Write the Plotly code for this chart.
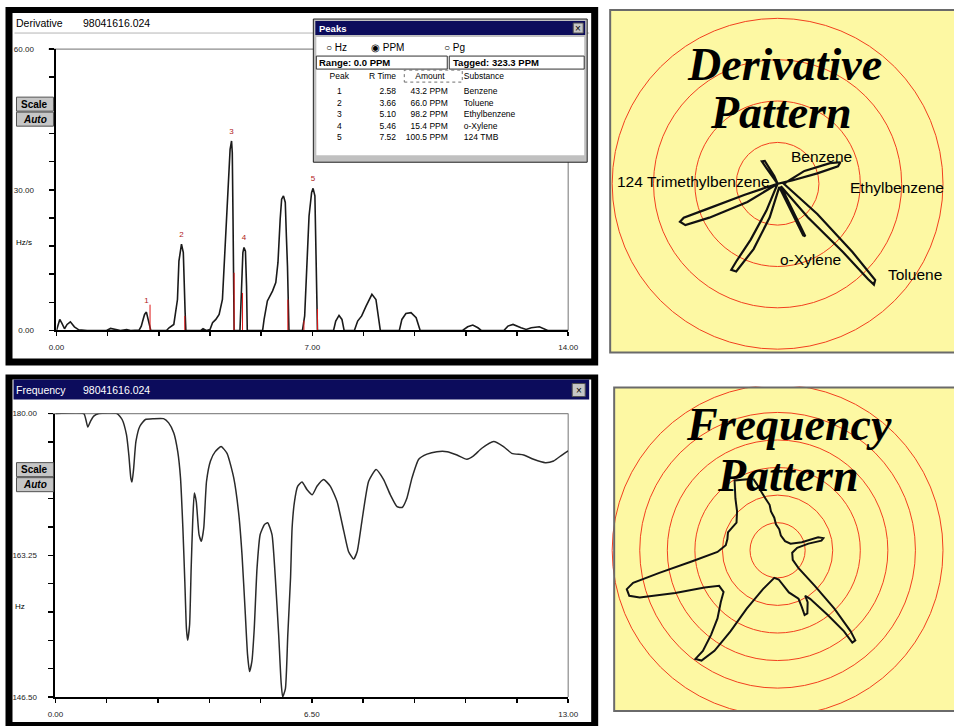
import numpy as np
import plotly.graph_objects as go

W, H = 954, 726

# ---------------- data ----------------
# Derivative chromatogram (time, value)
deriv_time = [0, 0.04, 0.09, 0.15, 0.22, 0.29, 0.38, 0.49, 0.61, 0.84,
              1.37, 1.48, 1.62, 1.75, 1.92, 2.03,
              2.26, 2.32, 2.37, 2.41, 2.46, 2.50, 2.54, 2.58,
              3.01, 3.08, 3.21, 3.31, 3.35, 3.40, 3.42, 3.47, 3.49, 3.52, 3.54,
              3.95, 4.01, 4.10,
              4.20, 4.27, 4.36, 4.45, 4.54, 4.60, 4.66, 4.70, 4.75, 4.79, 4.81, 4.83, 4.86,
              5.02, 5.06, 5.10, 5.13, 5.17, 5.20, 5.22,
              5.64, 5.68, 5.77, 5.91, 6.00, 6.06, 6.12, 6.16, 6.21, 6.26, 6.29, 6.32, 6.36,
              6.73, 6.79, 6.85, 6.91, 6.98, 7.02, 7.07, 7.10, 7.14,
              7.58, 7.64, 7.73, 7.81, 7.87,
              8.15, 8.24, 8.35, 8.47, 8.63, 8.74, 8.80, 8.86,
              9.38, 9.45, 9.56, 9.70, 9.84, 9.95,
              11.11, 11.25, 11.39, 11.53, 11.62,
              12.24, 12.35, 12.49, 12.71, 12.85, 12.99, 13.21, 13.44, 14.0]
deriv_value = [0, 1.28, 2.35, 1.5, 0.36, 1.28, 1.85, 0.78, 0.14, 0,
               0, 0.43, 0.2, 0, 0.2, 0,
               0.07, 0.93, 2.35, 3.42, 3.91, 2.7, 1.28, 0,
               0, 0.57, 1.28, 6.6, 14.8, 17.7, 18.4, 16.6, 9.5, 3.8, 0,
               0, 0.36, 0,
               0.2, 1.64, 2.35, 3.42, 6.6, 15.2, 23.7, 32.2, 38.6, 40.4, 37.9, 23.7, 0,
               0, 9.5, 16.6, 17.7, 16.9, 9.5, 0,
               0, 2.35, 6.3, 8.4, 10.2, 14.5, 23.7, 28.0, 28.7, 27.3, 20.1, 13.7, 0,
               0, 3.1, 15.2, 24.4, 29.4, 30.3, 28.7, 18.7, 0,
               0, 2.0, 3.2, 2.35, 0,
               0, 2.0, 3.1, 5.2, 7.7, 6.6, 3.1, 0,
               0, 2.35, 3.6, 3.8, 2.7, 0,
               0, 0.78, 1.14, 0.57, 0,
               0, 0.93, 1.28, 0.57, 0.2, 0.57, 0.78, 0, 0]

deriv_xticks = [0, 1.4, 2.8, 4.2, 5.6, 7.0, 8.4, 9.8, 11.2, 12.6, 14.0]
deriv_xticktext = ["0.00", "", "", "", "", "7.00", "", "", "", "", "14.00"]
deriv_yticks = [0, 6, 12, 18, 24, 30, 36, 42, 48, 54, 60]
deriv_yticktext = ["0.00", "", "", "", "", "30.00", "", "", "", "", "60.00"]

peak_ids = ["1", "2", "3", "4", "5"]
peak_label_time = [2.46, 3.42, 4.79, 5.13, 7.02]
peak_label_value = [6.3, 20.3, 42.4, 19.8, 32.4]
marker_time = [2.56, 3.51, 4.86, 5.09, 6.33, 6.77, 7.14]
marker_height = [5.5, 3.1, 12.3, 8.0, 6.6, 2.1, 4.6]

# Peaks table
peak_no = ["1", "2", "3", "4", "5"]
peak_rtime = ["2.58", "3.66", "5.10", "5.46", "7.52"]
peak_amount = ["43.2 PPM", "66.0 PPM", "98.2 PPM", "15.4 PPM", "100.5 PPM"]
peak_substance = ["Benzene", "Toluene", "Ethylbenzene", "o-Xylene", "124 TMB"]
table_header = ["Peak", "R Time", "Amount", "Substance"]

# Frequency trace
freq_time = [0, 0.72, 0.77, 0.82, 0.89, 0.97, 1.10, 1.56, 1.69, 1.80,
             1.86, 1.91, 1.94, 1.98, 2.04, 2.14, 2.28, 2.49, 2.74, 2.87,
             3.00, 3.10, 3.17, 3.23, 3.28, 3.32, 3.35, 3.40, 3.44, 3.48,
             3.52, 3.57, 3.64, 3.70, 3.76, 3.83, 3.93, 4.05, 4.20, 4.35,
             4.52, 4.65, 4.73, 4.81, 4.87, 4.92, 4.98, 5.04, 5.11, 5.19,
             5.30, 5.38, 5.49, 5.57, 5.66, 5.72, 5.76, 5.83, 5.89, 5.96,
             6.00, 6.06, 6.14, 6.25, 6.38, 6.51, 6.63, 6.80, 6.97, 7.14,
             7.31, 7.43, 7.56, 7.65, 7.77, 7.94, 8.13, 8.32, 8.49, 8.66,
             8.79, 8.91, 9.04, 9.21, 9.42, 9.67, 9.93, 10.18, 10.43, 10.60,
             10.81, 11.11, 11.36, 11.57, 11.87, 12.12, 12.42, 12.63, 12.84, 13.0]
freq_value = [180.0, 180.0, 179.3, 178.4, 179.1, 179.7, 180.0, 180.0, 179.3, 177.5,
              175.1, 172.4, 171.9, 173.4, 176.7, 178.5, 179.3, 179.4, 179.4, 178.9,
              177.7, 175.5, 172.4, 166.5, 160.1, 154.6, 153.2, 155.0, 161.7, 167.3,
              170.6, 169.6, 165.7, 164.9, 166.5, 172.0, 174.4, 175.5, 176.1, 175.3,
              172.4, 168.0, 163.3, 156.6, 151.5, 149.5, 150.7, 154.6, 161.7, 165.7,
              166.9, 167.1, 165.7, 160.9, 153.8, 148.3, 146.5, 147.5, 153.8, 160.6,
              166.5, 169.6, 171.4, 171.9, 171.0, 170.4, 171.4, 172.2, 171.4, 169.6,
              166.1, 163.7, 162.8, 163.7, 167.3, 172.0, 173.4, 172.2, 170.4, 169.0,
              168.9, 170.0, 172.4, 174.6, 175.2, 175.5, 175.5, 175.1, 174.6, 175.0,
              175.9, 176.7, 176.1, 175.3, 175.1, 174.6, 174.2, 174.4, 175.1, 175.6]

freq_xticks = [0, 1.3, 2.6, 3.9, 5.2, 6.5, 7.8, 9.1, 10.4, 11.7, 13.0]
freq_xticktext = ["0.00", "", "", "", "", "6.50", "", "", "", "", "13.00"]
freq_yticks = [146.5, 149.85, 153.2, 156.55, 159.9, 163.25, 166.6, 169.95, 173.3, 176.65, 180.0]
freq_yticktext = ["146.50", "", "", "", "", "163.25", "", "", "", "", "180.00"]

# Derivative pattern (x, y in ring units, centre = 0,0)
deriv_pattern_x = [0, -0.81, -1.73, -2.27, -2.36, -2.23, -1.65, -0.73, 0,
                   -0.27, -0.65, -1.00, -1.12, -1.00, -0.58, -0.19, 0.04,
                   0.62, 0.67, 0.08,
                   0.73, 1.58, 2.19, 2.33, 2.36, 1.81, 0.96, 0.15,
                   0.65, 1.27, 1.52, 1.46, 0.96, 0.35, 0,
                   -0.27, -0.38, -0.31, -0.08, 0]
deriv_pattern_y = [0, -0.27, -0.62, -0.82, -0.92, -1.00, -0.82, -0.44, 0,
                   -0.65, -1.35, -1.88, -2.08, -2.12, -1.58, -0.81, -0.08,
                   -1.25, -1.27, -0.06,
                   -0.81, -1.65, -2.31, -2.44, -2.33, -1.65, -0.73, 0,
                   0.31, 0.50, 0.52, 0.42, 0.25, 0.08, 0,
                   0.38, 0.54, 0.55, 0.19, 0]
deriv_pattern_names = ["Benzene", "Ethylbenzene", "124 Trimethylbenzene", "o-Xylene", "Toluene"]

# Frequency pattern (x, y in ring units)
freq_pattern_x = [-0.88, -1.56, -1.53, -1.47, -1.49, -1.65, -1.80, -1.82, -1.88, -2.18,
                  -3.12, -4.29, -5.24, -5.47, -5.38, -5.00, -3.71, -2.65, -2.12, -1.96,
                  -2.06, -2.18, -2.41, -2.71, -2.98, -2.76, -2.29, -1.71, -1.12, -0.53,
                  -0.12, 0.04, 0.41, 0.76, 0.88, 0.98, 1.08, 1.09, 1.00, 1.18,
                  1.82, 2.41, 2.71, 2.82, 2.65, 2.06, 1.35, 0.76, 0.55, 0.53,
                  0.71, 1.12, 1.59, 1.66, 1.47, 0.88, 0.47, 0.27, 0.12, 0.06,
                  -0.06, -0.12, -0.24, -0.29, -0.44, -0.59, -0.76, -0.88]
freq_pattern_y = [2.59, 2.53, 1.88, 1.41, 1.00, 0.82, 0.65, 0.41, 0.18, -0.06,
                  -0.41, -0.82, -1.18, -1.41, -1.65, -1.71, -1.55, -1.35, -1.29, -1.51,
                  -1.88, -2.47, -3.06, -3.65, -3.94, -4.00, -3.65, -2.94, -2.12, -1.41,
                  -1.00, -1.06, -1.53, -1.76, -2.06, -2.35, -2.29, -1.88, -1.65, -1.76,
                  -2.35, -2.94, -3.35, -3.27, -2.94, -2.12, -1.29, -0.65, -0.35, -0.09,
                  0.09, 0.24, 0.35, 0.44, 0.47, 0.29, 0.24, 0.33, 0.53, 0.76,
                  0.94, 1.18, 1.41, 1.65, 1.88, 2.12, 2.41, 2.59]

# ---------------- helpers (page layout) ----------------
# The figure is shown inside the window at about x 7.5..943, y 5..721;
# map window pixel positions of the screenshot to paper fractions.
VX0, VW = 7.5, 935.5
VY0, VH = 5.0, 716.0


def PX(x):
    return (x - VX0) / VW


def PY(y):
    return 1 - (y - VY0) / VH


shapes = []
annotations = []


def rect(x0, y0, x1, y1, fill=None, line=None, lw=1, layer="below", dash="solid"):
    shapes.append(dict(type="rect", xref="paper", yref="paper",
                       x0=PX(x0), x1=PX(x1), y0=PY(y1), y1=PY(y0),
                       fillcolor=fill if fill else "rgba(0,0,0,0)",
                       line=dict(color=line if line else "rgba(0,0,0,0)",
                                 width=lw if line else 0, dash=dash),
                       layer=layer))


def seg(x0, y0, x1, y1, color, width=1, layer="below"):
    shapes.append(dict(type="line", xref="paper", yref="paper",
                       x0=PX(x0), x1=PX(x1), y0=PY(y0), y1=PY(y1),
                       line=dict(color=color, width=width), layer=layer))


def text(s, x, y, size=10, color="black", family="Liberation Sans",
         xanchor="left", bold=False, italic=False):
    if bold:
        s = "<b>" + s + "</b>"
    if italic:
        s = "<i>" + s + "</i>"
    annotations.append(dict(text=s, x=PX(x), y=PY(y), xref="paper", yref="paper",
                            xanchor=xanchor, yanchor="middle", showarrow=False,
                            borderpad=0,
                            font=dict(size=size, color=color, family=family)))


NAVY = "#0c0c5c"
BTN = "#c6c6c6"
YEL = "#fdf8a3"
RED = "#f2401e"

# ---- top window (Derivative) ----
rect(5, 8, 598, 366, fill="black")
rect(12, 14, 591, 359, fill="white")
seg(14, 34, 589, 34, "#b4b4b4", 1)
text("Derivative", 15, 24, 10.5)
text("98041616.024", 82, 24, 10.5)
seg(48, 50, 568, 50, "#8c8c8c", 1.2)
seg(568, 50, 568, 331, "#8c8c8c", 1.2)
rect(16, 98, 53, 112, fill=BTN, line="#505050", layer="above")
rect(16, 113, 53, 127, fill=BTN, line="#505050", layer="above")
text("Scale", 34.5, 105, 10, xanchor="center", bold=True)
text("Auto", 34.5, 120, 10, xanchor="center", bold=True, italic=True)
text("Hz/s", 15, 243, 8)

# ---- Peaks window ----
rect(313, 20, 587, 163, fill="#c0c0c0", line="#202020", lw=1)
rect(315, 22, 585, 36, fill=NAVY)
text("Peaks", 318, 29, 9.5, color="white", bold=True)
rect(573, 24, 583, 34, fill=BTN, line="#505050", layer="above")
text("×", 578, 29, 10, xanchor="center")
rect(316, 38, 584, 156, fill="white")
text("○ Hz", 325, 48, 10)
text("◉ PPM", 370, 48, 10)
text("○ Pg", 443, 48, 10)
rect(316, 57, 447, 70, fill="white", line="#303030")
rect(449, 57, 584, 70, fill="white", line="#303030")
text("Range: 0.0 PPM", 318, 63.5, 9.5, bold=True)
text("Tagged: 323.3 PPM", 452, 63.5, 9.5, bold=True)
rect(404, 71, 462, 83, line="#707070", dash="dot")

# ---- bottom window (Frequency) ----
rect(5, 375, 598, 740, fill="black")
rect(12, 380, 591, 722, fill="white")
rect(13, 380, 589, 400, fill=NAVY)
text("Frequency", 15, 390, 10.5, color="white")
text("98041616.024", 82, 390, 10.5, color="white")
rect(572, 384, 585, 397, fill=BTN, line="#505050", layer="above")
text("×", 578.5, 390.5, 10, xanchor="center")
seg(48, 414, 568, 414, "#8c8c8c", 1.2)
seg(568, 414, 568, 697, "#8c8c8c", 1.2)
rect(16, 463, 53, 477, fill=BTN, line="#505050", layer="above")
rect(16, 478, 53, 492, fill=BTN, line="#505050", layer="above")
text("Scale", 34.5, 470, 10, xanchor="center", bold=True)
text("Auto", 34.5, 485, 10, xanchor="center", bold=True, italic=True)
text("Hz", 14, 607, 8)

# ---- pattern panels ----
rect(610, 11, 970, 353, fill=YEL)
rect(614, 388, 970, 711, fill=YEL)
rect(600, 354, 970, 387, fill="white", layer="above")
rect(600, 712, 970, 740, fill="white", layer="above")
rect(610, 11, 975, 353, line="#6a6a6a", lw=2, layer="above")
rect(614, 388, 975, 711, line="#6a6a6a", lw=2, layer="above")

SERIF = "Liberation Serif"
text("Derivative", 784, 65, 46, family=SERIF, xanchor="center", bold=True, italic=True)
text("Pattern", 781, 113, 46, family=SERIF, xanchor="center", bold=True, italic=True)
text("Frequency", 789, 425, 46, family=SERIF, xanchor="center", bold=True, italic=True)
text("Pattern", 788, 476, 46, family=SERIF, xanchor="center", bold=True, italic=True)

label_pos = {"Benzene": (821, 157), "Ethylbenzene": (897, 188),
             "124 Trimethylbenzene": (693, 182), "o-Xylene": (810, 260),
             "Toluene": (915, 275)}
for name in deriv_pattern_names:
    lx, ly = label_pos[name]
    text(name, lx, ly, 15.5, xanchor="center")

# ---------------- traces ----------------
fig = go.Figure()

fig.add_trace(go.Scatter(x=deriv_time, y=deriv_value, mode="lines",
                         line=dict(color="#1a1a1a", width=1.6),
                         xaxis="x", yaxis="y", hoverinfo="skip"))

mx, my = [], []
for t, h in zip(marker_time, marker_height):
    mx += [t, t, None]
    my += [0, h, None]
fig.add_trace(go.Scatter(x=mx, y=my, mode="lines", line=dict(color="#e01818", width=1),
                         xaxis="x", yaxis="y", hoverinfo="skip"))
fig.add_trace(go.Scatter(x=peak_label_time, y=peak_label_value, mode="text", text=peak_ids,
                         textfont=dict(color="#b01818", size=8, family="Liberation Sans"),
                         xaxis="x", yaxis="y", hoverinfo="skip"))

fig.add_trace(go.Scatter(x=freq_time, y=freq_value, mode="lines",
                         line=dict(color="#2a2a2a", width=1.5, shape="spline", smoothing=0.5),
                         xaxis="x2", yaxis="y2", hoverinfo="skip"))


def nb(items):
    return [str(s).replace(" ", "\u00a0") for s in items]


CLEAR = "rgba(0,0,0,0)"
fig.add_trace(go.Table(
    domain=dict(x=[PX(318), PX(584)], y=[PY(156), PY(66)]),
    columnwidth=[42, 44, 52, 128],
    header=dict(values=nb(table_header), align=["center", "right", "center", "left"],
                fill_color=CLEAR, line_color=CLEAR, height=14.5,
                font=dict(size=8.5, family="Liberation Sans", color="black")),
    cells=dict(values=[nb(peak_no), nb(peak_rtime), nb(peak_amount), nb(peak_substance)],
               align=["center", "right", "right", "left"],
               fill_color=CLEAR, line_color=CLEAR, height=11.6,
               font=dict(size=8.5, family="Liberation Sans", color="black"))))

dpx = np.array(deriv_pattern_x)
dpy = np.array(deriv_pattern_y)
fig.add_trace(go.Scatterpolar(r=np.hypot(dpx, dpy), theta=np.degrees(np.arctan2(dpy, dpx)),
                              mode="lines", line=dict(color="#111111", width=2.2),
                              subplot="polar", hoverinfo="skip"))
fpx = np.array(freq_pattern_x)
fpy = np.array(freq_pattern_y)
fig.add_trace(go.Scatterpolar(r=np.hypot(fpx, fpy), theta=np.degrees(np.arctan2(fpy, fpx)),
                              mode="lines", line=dict(color="#111111", width=2),
                              subplot="polar2", hoverinfo="skip"))

# ---------------- layout ----------------
tickfont = dict(size=8, family="Liberation Sans", color="#222222")


def xax(dom, rng, tv, tt, anchor):
    return dict(domain=dom, range=rng, anchor=anchor, tickmode="array", tickvals=tv, ticktext=tt,
                ticks="outside", ticklen=4, tickwidth=1.5, tickcolor="black",
                showline=True, linecolor="black", linewidth=2, showgrid=False,
                zeroline=False, tickfont=tickfont, ticklabelstandoff=4,
                ticklabeloverflow="allow", fixedrange=True)


def yax(dom, rng, tv, tt, anchor, standoff):
    return dict(domain=dom, range=rng, anchor=anchor, tickmode="array", tickvals=tv, ticktext=tt,
                ticks="outside", ticklen=5, tickwidth=1.5, tickcolor="black",
                showline=True, linecolor="black", linewidth=2, showgrid=False,
                zeroline=False, tickfont=tickfont, ticklabelstandoff=standoff,
                ticklabeloverflow="allow", fixedrange=True)


def polar(domy, rmax):
    return dict(domain=dict(x=[PX(612), 1.0], y=domy), bgcolor="rgba(0,0,0,0)",
                radialaxis=dict(range=[0, rmax], tickmode="linear", tick0=0, dtick=1,
                                showticklabels=False, ticks="", showline=False,
                                gridcolor=RED, gridwidth=1),
                angularaxis=dict(showgrid=False, showticklabels=False, ticks="",
                                 showline=True, linecolor=RED, linewidth=1))


fig.update_layout(
    width=W, height=H, autosize=False,
    margin=dict(l=0, r=0, t=0, b=0),
    paper_bgcolor="white", plot_bgcolor="rgba(0,0,0,0)",
    showlegend=False,
    xaxis=xax([PX(56), PX(568)], [0, 14], deriv_xticks, deriv_xticktext, "y"),
    yaxis=yax([PY(331), PY(50)], [0, 60], deriv_yticks, deriv_yticktext, "x", 14),
    xaxis2=xax([PX(55), PX(568)], [0, 13], freq_xticks, freq_xticktext, "y2"),
    yaxis2=yax([PY(697), PY(414)], [146.5, 180], freq_yticks, freq_yticktext, "x2", 10),
    polar=polar([PY(350), PY(19)], 4),
    polar2=polar([PY(716), PY(385)], 6),
    shapes=shapes,
    annotations=annotations,
)

page_fix = ("}); document.body.style.margin='0'; document.body.style.padding='0';"
            " document.documentElement.style.overflow='hidden'; (function(){")
fig.write_html("out.html",
               config={"displayModeBar": False, "staticPlot": True},
               post_script=page_fix)
